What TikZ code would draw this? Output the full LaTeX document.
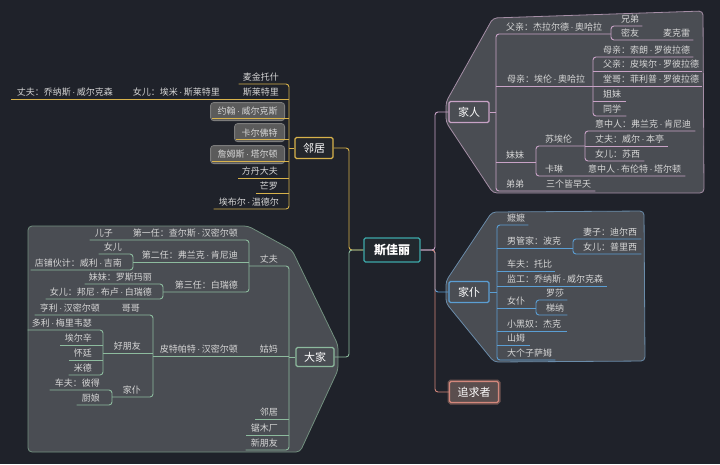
\documentclass[tikz,border=0pt]{standalone}
\usepackage{fontspec}
\setmainfont{Noto Sans CJK SC}
\newfontfamily\dotfont{Liberation Sans}
\newcommand\dt{{\dotfont\,·\,}}

\definecolor{bgcol}{HTML}{1F222A}
\definecolor{panelfill}{HTML}{4A4D53}
\definecolor{txtcol}{HTML}{D6D6D6}
\definecolor{famcol}{HTML}{C8A2C6}
\definecolor{fampanel}{HTML}{A58EA6}
\definecolor{srvcol}{HTML}{5B9ED3}
\definecolor{srvpanel}{HTML}{6A8CAA}
\definecolor{nbcol}{HTML}{D7B24B}
\definecolor{nbfill}{HTML}{23262C}
\definecolor{hhcol}{HTML}{8DBB9E}
\definecolor{hhpanel}{HTML}{72907F}
\definecolor{zqcol}{HTML}{D3877C}
\definecolor{zqfill}{HTML}{5A4E4E}
\definecolor{zqglow}{HTML}{6E5350}
\definecolor{ctrcol}{HTML}{3DA9A9}
\definecolor{ctrfill}{HTML}{22282E}
\definecolor{boxfill}{HTML}{5B5B5B}
\definecolor{boxedge}{HTML}{7C7C7C}

\newcommand\lblfont{\fontsize{9}{10}\selectfont}
\newcommand\topicfont{\fontsize{11}{12}\selectfont}

\tikzset{
  lbl/.style={font=\lblfont, text=txtcol, inner xsep=0pt, inner ysep=1.5pt, text height=7.5pt, text depth=1.5pt},
  lr/.style={lbl, anchor=south west},
  ll/.style={lbl, anchor=south east},
  nbbox/.style={font=\lblfont, text=txtcol, fill=boxfill, draw=boxedge, line width=0.8pt, rounded corners=3pt, inner xsep=7pt, minimum height=18pt, anchor=south east},
  topic/.style={font=\topicfont, text=white, fill=panelfill, line width=1.2pt, rounded corners=1.5pt, minimum width=40pt, minimum height=21pt},
  panel/.style={fill=panelfill, line width=0.8pt, rounded corners=4pt},
  famline/.style={draw=famcol, line width=0.9pt},
  srvline/.style={draw=srvcol, line width=0.9pt},
  nbline/.style={draw=nbcol, line width=0.9pt},
  hhline/.style={draw=hhcol, line width=0.9pt},
  zqline/.style={draw=zqcol, line width=0.9pt},
  elbow/.style={rounded corners=3pt}
}

\begin{document}
\begin{tikzpicture}[x=1pt,y=-1pt]
\fill[bgcol] (0,0) rectangle (720,464);
\useasboundingbox (0,0) rectangle (720,464);

\filldraw[panel, draw=fampanel] (493,18) -- (703,11) -- (704,193) -- (493,193) -- (446,122) -- (446,102) -- cycle;
\filldraw[panel, draw=srvpanel] (492,212) -- (644,211) -- (645,361) -- (494,362) -- (446,303) -- (446,281) -- cycle;
\filldraw[panel, draw=hhpanel] (28,226) -- (248,226) -- (292,250) -- (338,345) -- (338,370) -- (300,452) -- (28,452) -- cycle;

\node[topic, draw=ctrcol, fill=ctrfill, minimum width=56pt, minimum height=24pt, font=\fontsize{12}{13}\selectfont\bfseries] (ctr) at (392,250) {斯佳丽};
\node[topic, draw=famcol] (jr) at (469,112) {家人};
\node[topic, draw=srvcol] (jp) at (469,292) {家仆};
\node[topic, draw=zqcol, fill=zqfill, minimum width=49pt, preaction={draw=zqglow, line width=4pt}] (zq) at (474,392) {追求者};
\node[topic, draw=nbcol, fill=nbfill, minimum width=38pt] (lj) at (314,148) {邻居};
\node[topic, draw=hhcol, minimum width=38pt, minimum height=19pt] (dj) at (315,357) {大家};

\coordinate (lhub) at (349,250);
\coordinate (rhub) at (435,250);
\draw[nbline, elbow] (ctr.west) -- (lhub) -- (lhub |- lj) -- (lj.east);
\draw[hhline, elbow] (ctr.west) -- (lhub) -- (lhub |- dj) -- (dj.east);
\draw[srvline, elbow] (ctr.east) -- (rhub) -- (rhub |- jp) -- (jp.west);
\draw[zqline, elbow] (ctr.east) -- (rhub) -- (rhub |- zq) -- (zq.west);
\draw[famline, elbow] (ctr.east) -- (rhub) -- (rhub |- jr) -- (jr.west);

\coordinate (famT) at (496,112);
\coordinate (bFa) at (611,0);
\coordinate (bMu) at (593,0);
\coordinate (bMm) at (536,0);
\coordinate (bSe) at (585,0);
\draw[famline] (jr.east) -- (famT);
\node[lr] (fa) at (506,34) {父亲：杰拉尔德\dt 奥哈拉};
\node[lr] (mu) at (507,86) {母亲：埃伦\dt 奥哈拉};
\node[lr] (mm) at (506,162) {妹妹};
\node[lr] (dd) at (506,191) {弟弟};
\node[lr] (dd1) at (546,191) {三个皆早夭};
\draw[famline, elbow] (bFa |- fa.south) -- (famT |- fa.south) -- (famT |- dd.south) -- ([xshift=4pt]dd1.south east);
\draw[famline] (famT |- mu.south) -- (bMu |- mu.south);
\draw[famline] (famT |- mm.south) -- (bMm |- mm.south);
\node[lr] (xd) at (621,26) {兄弟};
\node[lr] (my) at (621,40) {密友};
\node[lr] (mk) at (663,40) {麦克雷};
\draw[famline, elbow] ([xshift=3pt]xd.south east) -- (bFa |- xd.south) -- (bFa |- my.south) -- ([xshift=3pt]mk.south east);
\node[lr] (m1) at (603,57) {母亲：索朗\dt 罗彼拉德};
\node[lr] (m2) at (603,71) {父亲：皮埃尔\dt 罗彼拉德};
\node[lr] (m3) at (603,86) {堂哥：菲利普\dt 罗彼拉德};
\node[lr] (m4) at (603,101) {姐妹};
\node[lr] (m5) at (603,116) {同学};
\draw[famline, elbow] ([xshift=3pt]m1.south east) -- (bMu |- m1.south) -- (bMu |- m5.south) -- ([xshift=5pt]m5.south east);
\draw[famline] (bMu |- m2.south) -- ([xshift=3pt]m2.south east);
\draw[famline] (bMu |- m3.south) -- ([xshift=3pt]m3.south east);
\draw[famline] (bMu |- m4.south) -- ([xshift=5pt]m4.south east);
\node[lr] (se) at (545,146) {苏埃伦};
\node[lr] (kl) at (545,176) {卡琳};
\node[lr] (kl1) at (588,176) {意中人\dt 布伦特\dt 塔尔顿};
\draw[famline, elbow] (bSe |- se.south) -- (bMm |- se.south) -- (bMm |- kl.south) -- ([xshift=4pt]kl1.south east);
\node[lr] (s1) at (595,131) {意中人：弗兰克\dt 肯尼迪};
\node[lr] (s2) at (595,146) {丈夫：威尔\dt 本亭};
\node[lr] (s3) at (595,161) {女儿：苏西};
\draw[famline, elbow] ([xshift=4pt]s1.south east) -- (bSe |- s1.south) -- (bSe |- s3.south) -- ([xshift=4pt]s3.south east);
\draw[famline] (bSe |- s2.south) -- ([xshift=4pt]s2.south east);

\coordinate (srvT) at (497,292);
\coordinate (bGj) at (573,0);
\coordinate (bNp) at (536,0);
\draw[srvline] (jp.east) -- (srvT);
\node[lr] (mo) at (507,225) {嬷嬷};
\node[lr] (gj) at (507,248) {男管家：波克};
\node[lr] (cf) at (507,271) {车夫：托比};
\node[lr] (jg) at (507,286) {监工：乔纳斯\dt 威尔克森};
\node[lr] (np) at (507,308) {女仆};
\node[lr] (xh) at (507,331) {小黑奴：杰克};
\node[lr] (sm) at (507,345) {山姆};
\node[lr] (dg) at (507,360) {大个子萨姆};
\draw[srvline, elbow] ([xshift=3pt]mo.south east) -- (srvT |- mo.south) -- (srvT |- dg.south) -- ([xshift=3pt]dg.south east);
\draw[srvline] (srvT |- gj.south) -- (bGj |- gj.south);
\draw[srvline] (srvT |- cf.south) -- ([xshift=3pt]cf.south east);
\draw[srvline] (srvT |- jg.south) -- ([xshift=4pt]jg.south east);
\draw[srvline] (srvT |- np.south) -- (bNp |- np.south);
\draw[srvline] (srvT |- xh.south) -- ([xshift=6pt]xh.south east);
\draw[srvline] (srvT |- sm.south) -- ([xshift=5pt]sm.south east);
\node[lr] (g1) at (583,239) {妻子：迪尔西};
\node[lr] (g2) at (583,254) {女儿：普里西};
\draw[srvline, elbow] ([xshift=4pt]g1.south east) -- (bGj |- g1.south) -- (bGj |- g2.south) -- ([xshift=4pt]g2.south east);
\node[lr] (n1) at (546,300) {罗莎};
\node[lr] (n2) at (546,315) {梯纳};
\draw[srvline, elbow] ([xshift=3pt]n1.south east) -- (bNp |- n1.south) -- (bNp |- n2.south) -- ([xshift=3pt]n2.south east);

\coordinate (nbT) at (289,148);
\draw[nbline] (lj.west) -- (nbT);
\node[ll] (a1) at (279,84) {麦金托什};
\node[ll] (a2) at (279,99) {斯莱特里};
\node[ll] (a2b) at (220,99) {女儿：埃米\dt 斯莱特里};
\node[ll] (a2c) at (113,99) {丈夫：乔纳斯\dt 威尔克森};
\node[nbbox] (a3) at (285,121) {约翰\dt 威尔克斯};
\node[nbbox] (a4) at (285,142) {卡尔佛特};
\node[nbbox] (a5) at (285,164) {詹姆斯\dt 塔尔顿};
\node[ll] (a6) at (278,178) {方丹大夫};
\node[ll] (a7) at (278,193) {芒罗};
\node[ll] (a8) at (279,209) {埃布尔\dt 温德尔};
\draw[nbline, elbow] ([xshift=-4pt]a1.south west) -- (nbT |- a1.south) -- (nbT |- a8.south) -- ([xshift=-5pt]a8.south west);
\draw[nbline] (nbT |- a2.south) -- ([xshift=-6pt]a2c.south west);
\coordinate (a3u) at ([xshift=2pt,yshift=3pt]a3.south west);
\coordinate (a4u) at ([xshift=2pt,yshift=3pt]a4.south west);
\coordinate (a5u) at ([xshift=2pt,yshift=3pt]a5.south west);
\draw[nbline] (a3u) -- (nbT |- a3u);
\draw[nbline] (a4u) -- (nbT |- a4u);
\draw[nbline] (a5u) -- (nbT |- a5u);
\draw[nbline] (nbT |- a6.south) -- ([xshift=-4pt]a6.south west);
\draw[nbline] (nbT |- a7.south) -- ([xshift=-4pt]a7.south west);

\coordinate (hhT) at (289,357);
\coordinate (bH) at (249,0);
\coordinate (bH2) at (133,0);
\coordinate (bH3) at (163,0);
\coordinate (bG) at (153,0);
\coordinate (bP2) at (103,0);
\coordinate (bP3) at (112,0);
\draw[hhline] (dj.west) -- (hhT);
\node[ll] (h0) at (278,266) {丈夫};
\node[ll] (g0) at (278,356) {姑妈};
\node[ll] (g0b) at (238,356) {皮特帕特\dt 汉密尔顿};
\node[ll] (l1) at (278,419) {邻居};
\node[ll] (l2) at (278,435) {锯木厂};
\node[ll] (l3) at (278,450) {新朋友};
\draw[hhline, elbow] (bH |- h0.south) -- (hhT |- h0.south) -- (hhT |- l3.south) -- ([xshift=-5pt]l3.south west);
\draw[hhline] (hhT |- g0.south) -- (bG |- g0.south);
\draw[hhline] (hhT |- l1.south) -- ([xshift=-5pt]l1.south west);
\draw[hhline] (hhT |- l2.south) -- ([xshift=-5pt]l2.south west);
\node[ll] (h1) at (238,240) {第一任：查尔斯\dt 汉密尔顿};
\node[ll] (h1b) at (113,240) {儿子};
\node[ll] (h2) at (238,262) {第二任：弗兰克\dt 肯尼迪};
\node[ll] (h3) at (238,292) {第三任：白瑞德};
\draw[hhline, elbow] ([xshift=-5pt]h1b.south west) -- (bH |- h1.south) -- (bH |- h3.south) -- (bH3 |- h3.south);
\draw[hhline] (bH |- h2.south) -- (bH2 |- h2.south);
\node[ll] (h21) at (122,254) {女儿};
\node[ll] (h22) at (122,270) {店铺伙计：威利\dt 吉南};
\draw[hhline, elbow] ([xshift=-5pt]h21.south west) -- (bH2 |- h21.south) -- (bH2 |- h22.south) -- ([xshift=-4pt]h22.south west);
\node[ll] (h31) at (152,284) {妹妹：罗斯玛丽};
\node[ll] (h32) at (152,299) {女儿：邦尼\dt 布卢\dt 白瑞德};
\draw[hhline, elbow] ([xshift=-4pt]h31.south west) -- (bH3 |- h31.south) -- (bH3 |- h32.south) -- ([xshift=-4pt]h32.south west);
\node[ll] (p1) at (140,315) {哥哥};
\node[ll] (p1b) at (100,315) {亨利\dt 汉密尔顿};
\node[ll] (p2) at (141,353) {好朋友};
\node[ll] (p3) at (141,397) {家仆};
\draw[hhline, elbow] ([xshift=-5pt]p1b.south west) -- (bG |- p1.south) -- (bG |- p3.south) -- (bP3 |- p3.south);
\draw[hhline] (bG |- p2.south) -- (bP2 |- p2.south);
\node[ll] (f1) at (92,330) {多利\dt 梅里韦瑟};
\node[ll] (f2) at (92,345) {埃尔辛};
\node[ll] (f3) at (92,360) {怀廷};
\node[ll] (f4) at (92,375) {米德};
\draw[hhline, elbow] ([xshift=-4pt]f1.south west) -- (bP2 |- f1.south) -- (bP2 |- f4.south) -- ([xshift=-5pt]f4.south west);
\draw[hhline] (bP2 |- f2.south) -- ([xshift=-5pt]f2.south west);
\draw[hhline] (bP2 |- f3.south) -- ([xshift=-5pt]f3.south west);
\node[ll] (q1) at (100,390) {车夫：彼得};
\node[ll] (q2) at (100,405) {厨娘};
\draw[hhline, elbow] ([xshift=-5pt]q1.south west) -- (bP3 |- q1.south) -- (bP3 |- q2.south) -- ([xshift=-5pt]q2.south west);
\end{tikzpicture}
\end{document}
